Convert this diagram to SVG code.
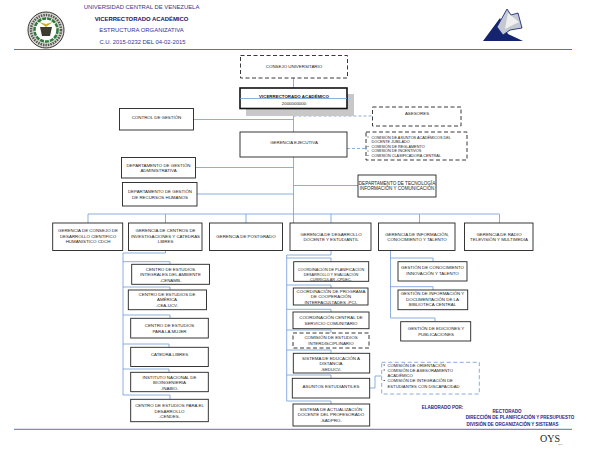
<svg xmlns="http://www.w3.org/2000/svg" width="600" height="464" viewBox="0 0 600 464">
<style>
text{font-family:"Liberation Sans",Arial,sans-serif;font-size:4.4px;fill:#222;text-anchor:middle}
.b{fill:#fff;stroke:#222;stroke-width:.9}
.d{fill:#fff;stroke:#222;stroke-width:.9;stroke-dasharray:4 2.5}
.c{fill:none;stroke:#6f9bd8;stroke-width:.8}
.cd{fill:none;stroke:#6f9bd8;stroke-width:.8;stroke-dasharray:3 2}
.rule{stroke:#4c76b5;stroke-width:1}
text.t{font-size:5.9px;fill:#33339a}
text.n{font-size:4.5px;fill:#1c1c8c;font-weight:bold}
text.l{text-anchor:start}
text.s{font-size:3.8px}
text.e{font-size:4.2px}
text.w{font-size:4.6px}
</style>
<rect width="600" height="464" fill="#fff"/>
<g id="header">
<line class="rule" x1="14" y1="49.500" x2="572" y2="49.500"/>
<text class="t" x="141.500" y="9">UNIVERSIDAD CENTRAL DE VENEZUELA</text>
<text class="t" x="141.500" y="20.500" style="fill:#14146e;font-weight:bold">VICERRECTORADO ACADÉMICO</text>
<text class="t" x="141.500" y="32">ESTRUCTURA ORGANIZATIVA</text>
<text class="t" x="142.500" y="44">C.U. 2015-0232 DEL 04-02-2015</text>
<circle cx="46" cy="30" r="18" fill="#d8d8d0" stroke="#333" stroke-width="1"/>
<circle cx="46" cy="30" r="15" fill="none" stroke="#555" stroke-width="2.500" stroke-dasharray="1.500 1"/>
<circle cx="46" cy="30" r="11.500" fill="#fff" stroke="#2f7a3c" stroke-width="2.500" stroke-dasharray="4 1"/>
<path d="M40 27h12l-2 9h-8z" fill="#3c3c30"/>
<path d="M39 22l7 5 7-5-7 2z" fill="#c9b22e"/>
<polygon points="483,41 500,18 508,34 523,41" fill="#14246e"/>
<path d="M507 9L497 27L503 35L510 30L522 28L518 13L511 15Z" fill="#c4c8d0" stroke="#1c2c78" stroke-width=".9"/>
<path d="M508 13L519 22L505 29Z" fill="#efefef"/>
</g>
<g id="connectors">
<path class="c" d="M293.500 78V223M240 98.500H347M193.500 119.500H293.500M195.500 167.500H293.500M197 194H293.500M293.500 185.500H358"/>
<path class="c" d="M88 223V214H499.500V223M165.500 214V223M246 214V223M331 214V223M419.500 214V223"/>
<path class="cd" d="M293.500 116H372.500M347 148.500H366"/>
<path class="c" d="M165.500 250.700V253H123V395H170V399M123 261.700H170V264M123 287H170V290M123 315H170V318M123 344H169V347M123 369H169V372"/>
<path class="c" d="M331 250.700V255H286.700V401H331V404M286.700 258H331V262M286.700 285H331V288M286.700 309.300H331V312M286.700 330H331V333M286.700 350H331V353M286.700 375H331V378"/>
<path class="c" d="M390.500 250.700V318H435V321.700M390.500 258H433V261.700M390.500 286.700H433V290"/>
<path class="c" d="M369.700 388H375V376H381.700"/>
</g>
<g id="consejo"><rect class="d" x="240.500" y="55.500" width="107" height="22.500"/><text x="294" y="67.500">CONSEJO UNIVERSITARIO</text></g>
<g id="vicerrectorado"><rect x="246" y="94" width="108" height="22" fill="#c8c8c8"/><rect x="240" y="88" width="107" height="20.500" fill="#fff" stroke="#111" stroke-width="1.600"/><path class="c" d="M240 98.500H347"/><text x="294" y="97.500" style="font-weight:bold;fill:#111">VICERRECTORADO ACADÉMICO</text><text x="294" y="104.500">2000000000</text></g>
<g id="control"><rect class="b" x="119.500" y="108.500" width="74" height="21.500"/><text x="156.500" y="118.500">CONTROL DE GESTIÓN</text></g>
<g id="gerencia-ejecutiva"><rect class="b" x="240" y="132" width="107" height="25"/><text x="294" y="143.500">GERENCIA  EJECUTIVA</text></g>
<g id="dep-adm"><rect class="b" x="121.500" y="157.500" width="74" height="20.500"/><text x="158.500" y="166.500">DEPARTAMENTO DE GESTIÓN</text><text x="158.500" y="172">ADMINISTRATIVA</text></g>
<g id="dep-rrhh"><rect class="b" x="122.500" y="182.500" width="74.500" height="23.500"/><text x="160" y="193">DEPARTAMENTO DE GESTIÓN</text><text x="160" y="198.500">DE RECURSOS HUMANOS</text></g>
<g id="asesores"><rect class="d" x="372.500" y="107" width="88.500" height="19"/><text x="417" y="115">ASESORES</text></g>
<g id="comisiones"><rect class="d" x="366" y="132" width="101" height="28"/>
<text class="l s" x="371.500" y="138.500">COMISIÓN DE ASUNTOS ACADÉMICOS DEL</text><text class="l s" x="371.500" y="143">DOCENTE JUBILADO</text><text class="l s" x="371.500" y="147.500">COMISIÓN DE REGLAMENTO</text><text class="l s" x="371.500" y="152">COMISIÓN DE INCENTIVOS</text><text class="l s" x="371.500" y="156.500">COMISIÓN CLASIFICADORA CENTRAL</text>
<path d="M367.500 137h1M367.500 146.500h1M367.500 151h1M367.500 155.500h1" stroke="#222" stroke-width=".8"/></g>
<g id="dep-tec"><rect class="b" x="358" y="175" width="78" height="22"/><text class="w" x="397" y="184.500">DEPARTAMENTO DE TECNOLOGÍA</text><text class="w" x="397" y="190">INFORMACIÓN Y COMUNICACIÓN</text></g>
<g id="g-coch"><rect class="b" x="52.700" y="223" width="70" height="27.500"/><text x="88" y="232">GERENCIA DE CONSEJO DE</text><text x="88" y="237.500">DESARROLLO CIENTÍFICO</text><text x="88" y="243">HUMANÍSTICO CDCH</text></g>
<g id="g-centros"><rect class="b" x="128.500" y="223" width="73.500" height="27.500"/><text x="165.500" y="232">GERENCIA DE CENTROS DE</text><text x="165.500" y="237.500">INVESTIGACIONES Y CATEDRAS</text><text x="165.500" y="243">LIBRES</text></g>
<g id="g-postgrado"><rect class="b" x="209.500" y="223" width="73" height="27.500"/><text x="246" y="238">GERENCIA DE  POSTGRADO</text></g>
<g id="g-desarrollo"><rect class="b" x="290" y="223" width="81" height="27.500"/><text x="331" y="235.500">GERENCIA DE DESARROLLO</text><text x="331" y="241">DOCENTE Y ESTUDIANTIL</text></g>
<g id="g-informacion"><rect class="b" x="378.500" y="223" width="76.500" height="27.500"/><text x="417" y="235.500">GERENCIA DE INFORMACIÓN,</text><text x="417" y="241">CONOCIMIENTO Y TALENTO</text></g>
<g id="g-radio"><rect class="b" x="464.500" y="223" width="68.500" height="27.500"/><text x="499" y="235.500">GERENCIA DE RADIO</text><text x="499" y="241">TELEVISIÓN Y MULTIMEDIA</text></g>
<g id="c1"><rect class="b" x="131.700" y="264.300" width="77.800" height="20"/><text x="170.500" y="270.500">CENTRO DE ESTUDIOS</text><text x="170.500" y="275.800">INTEGRALES DEL AMBIENTE</text><text x="170.500" y="281.500">-CENAMB-</text></g>
<g id="c2"><rect class="b" x="128.300" y="290" width="78.200" height="19.700"/><text x="167" y="296">CENTRO DE ESTUDIOS DE</text><text x="167" y="301">AMÉRICA</text><text x="167" y="307">-CEA-UCV-</text></g>
<g id="c3"><rect class="b" x="130.700" y="318.300" width="77.600" height="19.700"/><text x="169.500" y="327">CENTRO DE ESTUDIOS</text><text x="169.500" y="332.500">PARA LA MUJER</text></g>
<g id="c4"><rect class="b" x="130.700" y="347.300" width="77.600" height="19.200"/><text x="169.500" y="356">CATEDRA LIBRES</text></g>
<g id="c5"><rect class="b" x="130.700" y="372.300" width="77.600" height="19.400"/><text x="169.500" y="378.500">INSTITUTO NACIONAL DE</text><text x="169.500" y="384">BIOINGENIERÍA</text><text x="169.500" y="389.500">-INABIO-</text></g>
<g id="c6"><rect class="b" x="130.700" y="399.300" width="77.600" height="22.400"/><text x="169.500" y="406.500">CENTRO DE ESTUDIOS PARA EL</text><text x="169.500" y="412.500">DESARROLLO</text><text x="169.500" y="418">-CENDES-</text></g>
<g id="d1"><rect class="b" x="293.700" y="261.700" width="75" height="19.600"/><text class="s" x="331" y="270.500">COORDINACIÓN DE PLANIFICACIÓN</text><text class="s" x="331" y="275.500">DESARROLLO Y EVALUACIÓN</text><text class="s" x="331" y="280.500">CURRICULAR -CPDEC-</text></g>
<g id="d2"><rect class="b" x="293.300" y="288" width="74.700" height="17"/><text x="331" y="293">COORDINACIÓN DE PROGRAMA</text><text x="331" y="298">DE COOPERACIÓN</text><text x="331" y="303.500">INTERFACULTADES -PCI-</text></g>
<g id="d3"><rect class="b" x="293" y="312" width="76" height="16.700"/><text x="331" y="319">COORDINACIÓN CENTRAL DE</text><text x="331" y="324.500">SERVICIO COMUNITARIO</text></g>
<g id="d4"><rect class="d" x="293" y="333" width="76" height="15"/><text x="331" y="339">COMISIÓN DE ESTUDIOS</text><text x="331" y="345">INTERDISCIPLINARIO</text></g>
<g id="d5"><rect class="b" x="293.300" y="353.300" width="76.400" height="19.700"/><text x="331" y="359.500">SISTEMA DE EDUCACIÓN A</text><text x="331" y="364.500">DISTANCIA</text><text x="331" y="370.500">-SEDUCV-</text></g>
<g id="d6"><rect class="b" x="292.300" y="378.300" width="77.400" height="19.700"/><text x="331" y="387.500">ASUNTOS ESTUDIANTILES</text></g>
<g id="d7"><rect class="b" x="293" y="404" width="76.700" height="22"/><text x="331" y="411">SISTEMA DE ACTUALIZACIÓN</text><text x="331" y="416">DOCENTE DEL PROFESORADO</text><text x="331" y="422">-SADPRO-</text></g>
<g id="i1"><rect class="b" x="398" y="261.700" width="69" height="19.300"/><text x="432.500" y="269">GESTIÓN DE  CONOCIMIENTO</text><text x="432.500" y="275">INNOVACIÓN Y TALENTO</text></g>
<g id="i2"><rect class="b" x="398" y="290" width="69.700" height="19.700"/><text x="432.500" y="295">GESTIÓN DE INFORMACIÓN Y</text><text x="432.500" y="300.500">DOCUMENTACIÓN DE LA</text><text x="432.500" y="306">BIBLIOTECA CENTRAL</text></g>
<g id="i3"><rect class="b" x="400.700" y="321.700" width="70" height="19.300"/><text x="436" y="330">GESTIÓN DE EDICIONES Y</text><text x="436" y="335.500">PUBLICACIONES</text></g>
<g id="comisiones-estudiantiles"><rect x="381.700" y="362.300" width="97.600" height="31.700" fill="#fff" stroke="#7fa3d8" stroke-width=".9" stroke-dasharray="4 2.500"/>
<text class="l e" x="387.500" y="366.500">COMISIÓN DE ORIENTACIÓN</text><text class="l e" x="387.500" y="371.500">COMISIÓN DE ASESORAMIENTO</text><text class="l e" x="387.500" y="377">ACADÉMICO</text><text class="l e" x="387.500" y="382">COMISIÓN DE INTEGRACIÓN DE</text><text class="l e" x="387.500" y="388">ESTUDIANTES CON DISCAPACIDAD</text>
<path d="M383.500 365h1.500M383.500 370h1.500M383.500 380.500h1.500" stroke="#222" stroke-width=".8"/></g>
<g id="footer">
<line class="rule" x1="14" y1="429.300" x2="572" y2="429.300"/>
<text class="n" x="442.500" y="409">ELABORADO POR:</text>
<text class="n" x="507" y="412.500">RECTORADO</text>
<text class="n" x="520" y="419">DIRECCIÓN DE PLANIFICACIÓN Y PRESUPUESTO</text>
<text class="n" x="512.500" y="426">DIVISIÓN DE ORGANIZACIÓN Y SISTEMAS</text>
<text x="550" y="441.500" style="font-size:10px;font-family:'Liberation Serif',serif;fill:#222">OYS</text>
<text x="560.500" y="444.500" style="font-size:2.500px;fill:#555">M.K</text>
</g>
</svg>
